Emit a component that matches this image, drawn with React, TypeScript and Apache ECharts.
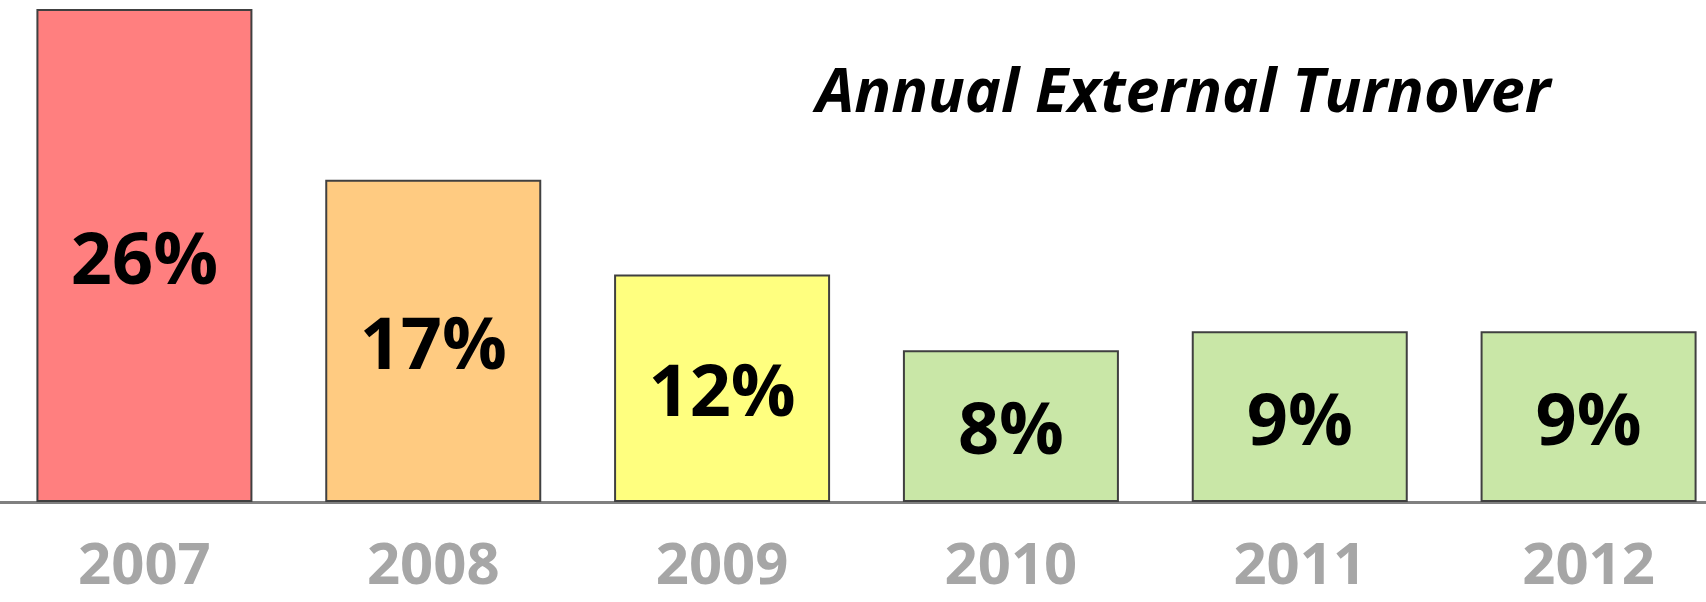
import React, { useEffect, useRef } from "react";
import * as echarts from "echarts";

const years = ["2007", "2008", "2009", "2010", "2011", "2012"];
const turnover = [26, 17, 12, 8, 9, 9];
const titleText = "Annual External Turnover";

const barColors = ["#FF7F7F", "#FFCB81", "#FFFF7F", "#C9E7A7", "#C9E7A7", "#C9E7A7"];

export default function App() {
  const ref = useRef<HTMLDivElement>(null);

  useEffect(() => {
    if (!ref.current) return;
    const chart = echarts.init(ref.current, undefined, { renderer: "svg" });
    chart.setOption({
      animation: false,
      backgroundColor: "#ffffff",
      grid: { left: 0, top: 9, right: 2, bottom: 100, containLabel: false },
      xAxis: {
        type: "category",
        data: years,
        boundaryGap: true,
        axisTick: { show: false },
        axisLine: { show: true, lineStyle: { color: "#808080", width: 3 } },
        axisLabel: {
          color: "#A6A6A6",
          fontSize: 58,
          fontWeight: "bold",
          fontFamily: "Open Sans",
          margin: 30,
          lineHeight: 58,
        },
      },
      yAxis: { type: "value", min: 0, max: 26, show: false, splitLine: { show: false } },
      graphic: [
        {
          type: "text",
          x: 816,
          y: 88,
          style: {
            text: titleText,
            font: 'italic bold 61px "Open Sans"',
            fill: "#000000",
            textAlign: "left",
            textVerticalAlign: "middle",
          },
        },
      ],
      series: [
        {
          type: "bar",
          barWidth: 216,
          data: turnover.map((v, i) => ({ value: v, itemStyle: { color: barColors[i] } })),
          itemStyle: { borderColor: "#404040", borderWidth: 2 },
          label: {
            show: true,
            position: "inside",
            formatter: "{c}%",
            color: "#000000",
            fontSize: 72,
            fontWeight: "bold",
            fontFamily: "Open Sans",
          },
        },
      ],
    });
    return () => chart.dispose();
  }, []);

  return (
    <div style={{ position: "absolute", left: 0, top: 0, width: 1706, height: 602, overflow: "hidden" }}>
      <div ref={ref} style={{ width: 1735, height: 602 }} />
    </div>
  );
}
